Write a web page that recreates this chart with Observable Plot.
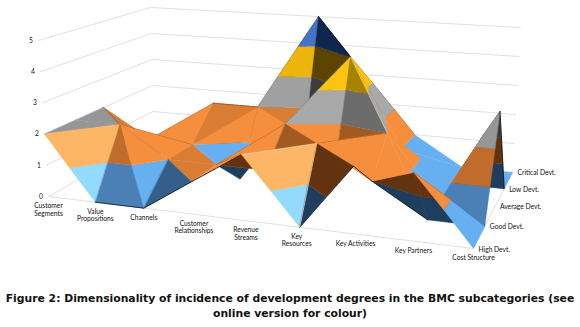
<!DOCTYPE html><html><head><meta charset="utf-8">
<script src="https://cdn.jsdelivr.net/npm/d3@7"></script>
<script src="https://cdn.jsdelivr.net/npm/@observablehq/plot@0.6"></script>
<style>body{margin:0;background:#fff}
#cap{font:bold 10.8px/15px "DejaVu Sans";text-align:center;color:#111;white-space:pre}</style></head><body>
<div id="chart"></div>
<div id="cap">Figure 2: Dimensionality of incidence of development degrees in the BMC subcategories (see
online version for colour)</div>
<script>
const categories=["Customer\nSegments","Value\nPropositions","Channels","Customer\nRelationships","Revenue\nStreams","Key\nResources","Key Activities","Key Partners","Cost Structure"];
const seriesNames=["High Devt.","Good Devt.","Average Devt.","Low Devt.","Critical Devt."];
const highDevt    =[2,0,0,1,2,0,2,2,0];
const goodDevt    =[2,2,1,1,1,2,1,0,0];
const averageDevt =[2,1,1,0,2,1,2,0,3];
const lowDevt     =[0,0,2,2,1,4,1,0,0];
const criticalDevt=[0,0,0,1,5,2,1,0,0];
const zTicks=[0,1,2,3,4,5];
const values=[highDevt,goodDevt,averageDevt,lowDevt,criticalDevt];
function hom(a,b,c,d){
 const [x0,y0]=a,[x1,y1]=b,[x2,y2]=c,[x3,y3]=d;
 const dx1=x1-x2,dx2=x3-x2,sx=x0-x1+x2-x3,dy1=y1-y2,dy2=y3-y2,sy=y0-y1+y2-y3;
 const det=dx1*dy2-dx2*dy1,g=(sx*dy2-dx2*sy)/det,h=(dx1*sy-sx*dy1)/det;
 return (u,v)=>{const w=g*u+h*v+1;return [((x1-x0+g*x1)*u+(x3-x0+h*x3)*v+x0)/w,((y1-y0+g*y1)*u+(y3-y0+h*y3)*v+y0)/w];};
}
const H0=hom([48,196],[473,248],[512,172],[153,137]),H5=hom([38,40],[481,74],[520,27],[150,7]);
const P=(i,j,z)=>{const a=H0(i/8,j/4),b=H5(i/8,j/4);return [a[0]+(b[0]-a[0])*z/5,a[1]+(b[1]-a[1])*z/5];};
const ramps=[
 [null,"#1f3d5c","#345f8a","#4a80b5","#5a97d8","#66b0f2","#93dbfd"],
 [null,"#63330f","#a05a22","#c06c2c","#d97c34","#f58f3e","#fdb566"],
 [null,"#3c3c3c","#6c6c6c","#969696","#a0a0a0","#a9a9a9","#c0c0c0"],
 [null,"#5a4400","#a58300","#cfa000","#ecb40c","#fcc412","#ffd040"],
 [null,"#10264f","#24407a","#33589f","#4472c4","#4f80d0","#6a90d8"]];
const light={"00r":6,"00l":3,"01l":3,"01r":4,"10l":3,"10r":5,"11r":5,"20l":2,"20r":4,"21l":4,"22r":5,"22l":4,
 "30l":5,"31r":5,"32r":4,"33r":4,"40r":6,"41l":2,"41r":5,"42r":5,"43l":1,"50l":1,"50r":5,"51r":5,"52l":2,"52r":5,"53r":5,"60l":5,"61l":5,"61r":5,"62r":5,"62l":5,"63l":5,"63r":5,"70r":5,"71r":3,"71l":5,"73l":5,"73r":5};
const node=(i,j)=>({i,j,z:values[j][i]});
const tris=[];
for(let j=0;j<4;j++)for(let i=0;i<8;i++){
 const a=node(i,j),b=node(i+1,j),c=node(i+1,j+1),d=node(i,j+1);
 if(a.z+c.z>=b.z+d.z){tris.push({k:`${i}${j}r`,p:[a,b,c]},{k:`${i}${j}l`,p:[a,c,d]});}
 else{tris.push({k:`${i}${j}l`,p:[a,b,d]},{k:`${i}${j}r`,p:[b,c,d]});}
}
const cam=[5.2,-7,6];
const dist=t=>{const n=t.p.reduce((s,q)=>[s[0]+q.i/3,s[1]+q.j/3,s[2]+q.z/3],[0,0,0]);return Math.hypot(n[0]-cam[0],n[1]-cam[1],(n[2]-cam[2])*.7);};
tris.sort((a,b)=>dist(b)-dist(a));
function clip(p,lo,hi){
 const cut=(poly,f)=>{const o=[];poly.forEach((q,n)=>{const r=poly[(n+1)%poly.length],a=f(q),b=f(r);if(a>=0)o.push(q);if(a*b<0){const t=a/(a-b);o.push({i:q.i+(r.i-q.i)*t,j:q.j+(r.j-q.j)*t,z:q.z+(r.z-q.z)*t});}});return o;};
 return cut(cut(p,q=>q.z-lo),q=>hi-q.z);
}
const polys=[];let id=0;
for(const t of tris){
 const s=t.p.map(q=>P(q.i,q.j,q.z));
 const cross=(s[1][0]-s[0][0])*(s[2][1]-s[0][1])-(s[1][1]-s[0][1])*(s[2][0]-s[0][0]);
 const level=light[t.k]||(cross>0?1:5);
 const zs=t.p.map(q=>q.z),mn=d3.min(zs),mx=d3.max(zs);
 for(let k=Math.floor(mn);k<=Math.max(mn,mx-1);k++){
  const g=clip(t.p,k,k+1);if(g.length<3)continue;
  id++;for(const q of g){const [x,y]=P(q.i,q.j,q.z);polys.push({id,x,y,c:ramps[Math.min(k,4)][level]});}
 }
}
const grid=[];zTicks.forEach(z=>{[[0,0],[0,4],[8,4]].forEach(([i,j])=>{const [x,y]=P(i,j,z);grid.push({z:"g"+z,x,y});});});
[[0,0],[8,0],[8,4]].forEach(([i,j])=>{const [x,y]=P(i,j,0);grid.push({z:"f",x,y});});
const edge=(list,tag)=>list.flatMap((e,n)=>e.map(([i,j])=>{const [x,y]=P(i,j,values[j][i]);return {z:tag+n,x,y};}));
const darkEdges=edge([[[4,4],[5,3]],[[8,2],[8,3]],[[5,0],[6,0]],[[6,0],[6,1],[7,1]],[[1,0],[2,0],[3,0],[4,0]]],"d");
const ridgeEdges=edge([[[2,3],[3,3]],[[0,2],[1,1]]],"r");
const lightEdges=edge([[[5,1],[5,0]],[[5,3],[6,2]],[[4,0],[5,1]]],"l");
const lab=categories.map((s,i)=>{const [x,y]=P(i,0,0);return {s,x:x+(i==5?-3:0),y:y+(s.includes("\n")?13:9.5)};});
const slab=seriesNames.map((s,j)=>{const [x,y]=P(8,j,0);return {s,x:x+5,y:y+(j==0?1.5:0.5)};});
const zlab=zTicks.map(z=>{const [x,y]=P(0,0,z);return {s:String(z),x:x-7.5,y};});
const f={fontFamily:"Lato",fontSize:6.7,fill:"#111",lineHeight:1.1};
document.getElementById("chart").append(Plot.plot({
 width:580,height:291,margin:0,
 x:{domain:[0,580],range:[0,580],axis:null},y:{domain:[0,291],range:[0,291],axis:null},
 color:{type:"identity"},style:{background:"#fff"},
 marks:[
  Plot.line(grid,{x:"x",y:"y",z:"z",stroke:"#e0e0e0",strokeWidth:1}),
  Plot.line(polys,{x:"x",y:"y",z:"id",fill:"c",stroke:"c",strokeWidth:.4,curve:"linear-closed"}),
  Plot.line(ridgeEdges,{x:"x",y:"y",z:"z",stroke:"#a05a22",strokeWidth:.7}),
  Plot.line(darkEdges,{x:"x",y:"y",z:"z",stroke:"#0c1620",strokeWidth:.8}),
  Plot.line(lightEdges,{x:"x",y:"y",z:"z",stroke:"#ffe6c4",strokeWidth:.6}),
  Plot.text(lab,{x:"x",y:"y",text:"s",...f}),
  Plot.text(slab,{x:"x",y:"y",text:"s",textAnchor:"start",...f}),
  Plot.text(zlab,{x:"x",y:"y",text:"s",...f})
 ]}));
</script></body></html>
